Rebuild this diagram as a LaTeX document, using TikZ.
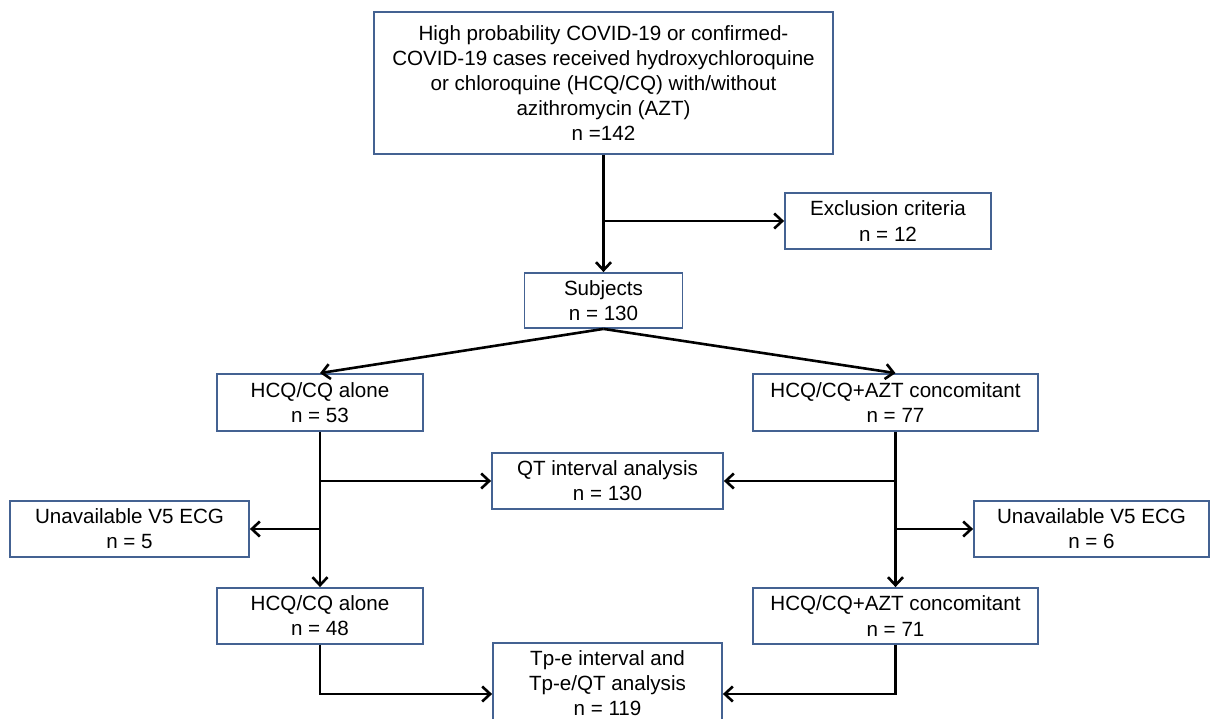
\documentclass[tikz,border=0pt]{standalone}
\usepackage{fontspec}
\setmainfont{Liberation Sans}
\usetikzlibrary{arrows.meta,calc}
\definecolor{boxblue}{RGB}{68,98,146}
\tikzset{
    block/.style = {draw=boxblue, rectangle, line width=1.8pt,
        align=center, inner sep=0pt,
        font=\fontsize{20.6}{25.2}\selectfont},
    arrow/.style = {draw, line width=2.6pt, -{Straight Barb[length=8pt,width=15pt]}},
    line/.style = {draw, line width=2.6pt}
}

\begin{document}
\begin{tikzpicture}[x=1pt, y=-1pt]
    \useasboundingbox (0,0) rectangle (1210,719);
    \node[block, minimum width=459pt, minimum height=142pt] (cases) at (603.5,83)
        {High probability COVID-19 or confirmed-\\COVID-19 cases received hydroxychloroquine\\or chloroquine (HCQ/CQ) with/without\\azithromycin (AZT)\\n =142};
    \node[block, minimum width=206pt, minimum height=56pt] (excl) at (888,221) {Exclusion criteria\\n = 12};
    \node[block, minimum width=158pt, minimum height=55pt] (subj) at (603.5,300.5) {Subjects\\n = 130};
    \node[block, minimum width=206pt, minimum height=57pt] (alone) at (320,402.5) {HCQ/CQ alone\\n = 53};
    \node[block, minimum width=285pt, minimum height=57pt] (conc) at (895.5,402.5) {HCQ/CQ+AZT concomitant\\n = 77};
    \node[block, minimum width=231pt, minimum height=56pt] (qt) at (607.5,481) {QT interval analysis\\n = 130};
    \node[block, minimum width=239pt, minimum height=56pt] (unavl) at (129.5,529) {Unavailable V5 ECG\\n = 5};
    \node[block, minimum width=235pt, minimum height=56pt] (unavr) at (1091.5,529) {Unavailable V5 ECG\\n = 6};
    \node[block, minimum width=206pt, minimum height=56pt] (alonev) at (320,616) {HCQ/CQ alone\\n = 48};
    \node[block, minimum width=285pt, minimum height=56pt] (concv) at (895.5,616) {HCQ/CQ+AZT concomitant\\n = 71};
    \node[block, minimum width=229pt, minimum height=80pt] (tpe) at (607.5,683) {Tp-e interval and\\Tp-e/QT analysis\\n = 119};
    \coordinate (tpein) at (607.5,694);

    \draw[arrow] (cases.south) -- (subj.north);
    \draw[arrow] (cases.south |- excl.west) -- (excl.west);
    \draw[arrow] (subj.south) -- (alone.north);
    \draw[arrow] (subj.south) -- (conc.north);

    \draw[arrow] (alone.south) -- (alonev.north);
    \draw[arrow] (alone.south |- qt.west) -- (qt.west);
    \draw[arrow] (alone.south |- unavl.east) -- (unavl.east);
    \draw[arrow] (conc.south) -- (concv.north);
    \draw[arrow] (conc.south |- qt.east) -- (qt.east);
    \draw[arrow] (conc.south |- unavr.west) -- (unavr.west);

    \draw[arrow] (alonev.south) |- (tpe.west |- tpein);
    \draw[arrow] (concv.south) |- (tpe.east |- tpein);
\end{tikzpicture}
\end{document}
